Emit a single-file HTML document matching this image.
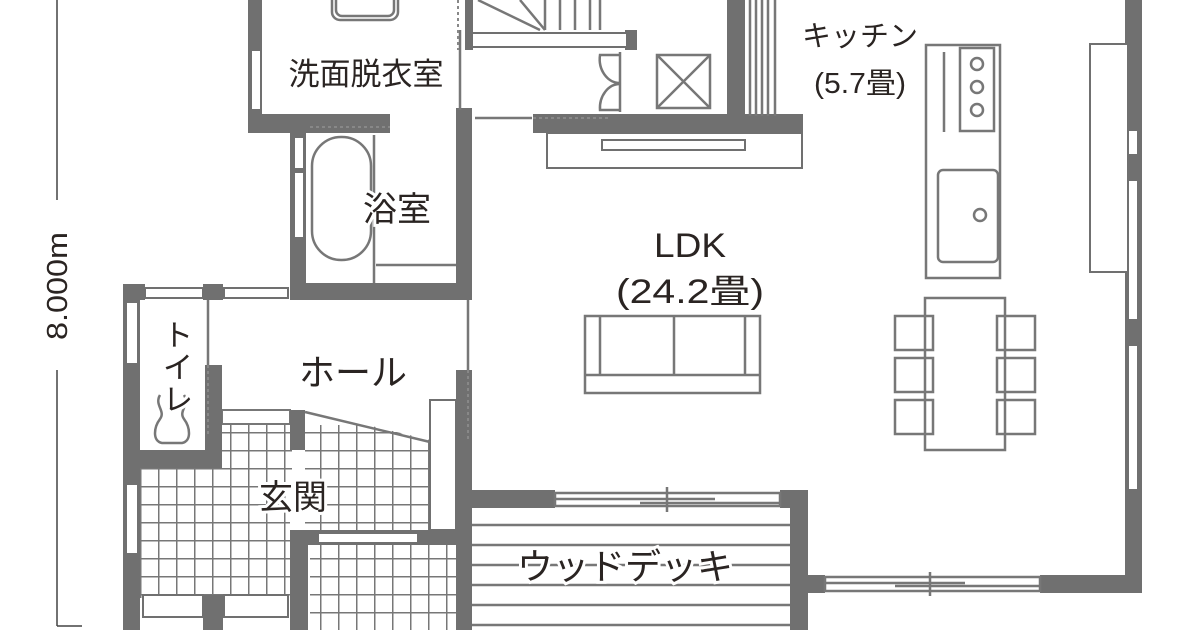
<!DOCTYPE html>
<html><head><meta charset="utf-8"><style>
html,body{margin:0;padding:0;background:#fff;width:1200px;height:630px;overflow:hidden}
svg{display:block}
text{font-family:"Liberation Sans","Noto Sans CJK JP",sans-serif;fill:#2a2422}
</style></head><body>
<svg width="1200" height="630" viewBox="0 0 1200 630" xmlns="http://www.w3.org/2000/svg">
<defs>
<pattern id="tile" width="18" height="18" patternUnits="userSpaceOnUse" x="140" y="468">
<rect width="18" height="18" fill="#fff"/>
<path d="M0 0H18M0 0V18" stroke="#777" stroke-width="3"/>
</pattern>
</defs>
<g fill="none" stroke="#444" stroke-width="1.5">
<line x1="57" y1="0" x2="57" y2="200"/>
<line x1="57" y1="370" x2="57" y2="626"/>
<line x1="57" y1="626" x2="82" y2="626"/>
</g>
<text transform="translate(67,286) rotate(-90)" font-size="29" text-anchor="middle" textLength="108" lengthAdjust="spacingAndGlyphs">8.000m</text>

<rect x="140" y="468" width="150" height="130" fill="url(#tile)"/>
<rect x="222" y="410" width="70" height="60" fill="url(#tile)"/>
<rect x="305" y="425" width="125" height="105" fill="url(#tile)"/>
<rect x="310" y="545" width="146" height="85" fill="url(#tile)"/>
<polygon points="305,410 430,440 430,425 305,395" fill="#fff"/>
<rect x="222" y="410" width="68" height="14" fill="#fff" stroke="#777" stroke-width="2"/>

<g fill="#707070">
<rect x="248" y="0" width="14" height="133"/>
<rect x="248" y="114" width="142" height="19"/>
<rect x="456" y="108" width="16" height="192"/>
<rect x="290" y="133" width="16" height="167"/>
<rect x="290" y="283" width="182" height="17"/>
<rect x="123" y="284" width="22" height="16"/>
<rect x="203" y="284" width="20" height="16"/>
<rect x="123" y="284" width="17" height="346"/>
<rect x="205" y="365" width="17" height="103"/>
<rect x="123" y="450" width="99" height="18"/>
<rect x="290" y="410" width="15" height="40"/>
<rect x="456" y="370" width="16" height="260"/>
<rect x="290" y="530" width="166" height="15"/>
<rect x="290" y="530" width="18" height="100"/>
<rect x="203" y="595" width="20" height="35"/>
<rect x="472" y="490" width="83" height="18"/>
<rect x="780" y="490" width="28" height="18"/>
<rect x="790" y="490" width="18" height="140"/>
<rect x="1125" y="0" width="17" height="592"/>
<rect x="800" y="575" width="25" height="18"/>
<rect x="1040" y="575" width="102" height="18"/>
<rect x="465" y="0" width="8" height="50"/>
<rect x="625" y="30" width="12" height="20"/>
<rect x="727" y="0" width="18" height="120"/>
<rect x="533" y="114" width="270" height="19"/>
</g>
<g fill="#fff" stroke="#707070" stroke-width="2">
<rect x="251" y="50" width="10" height="60"/>
<rect x="294" y="137" width="10" height="32"/>
<rect x="294" y="172" width="10" height="66"/>
<rect x="145" y="288" width="58" height="10"/>
<rect x="224" y="288" width="64" height="10"/>
<rect x="126" y="302" width="12" height="62"/>
<rect x="126" y="484" width="12" height="70"/>
<rect x="143" y="595" width="60" height="22"/>
<rect x="224" y="595" width="64" height="22"/>
<rect x="318" y="533" width="100" height="10"/>
<rect x="430" y="400" width="26" height="130"/>
<rect x="1128" y="130" width="10" height="25"/>
<rect x="1128" y="180" width="10" height="140"/>
<rect x="1128" y="345" width="10" height="145"/>
<rect x="1090" y="44" width="38" height="228"/>
<rect x="472" y="33" width="155" height="14"/>
<rect x="547" y="133" width="255" height="35"/>
<rect x="602" y="140" width="143" height="10"/>
</g>
<g fill="none" stroke="#777" stroke-width="2.5">
<path d="M478 0L540 30M520 0L545 30M545 0V30M560 0V30M575 0V30M590 0V30M600 0V30"/>
<rect x="332" y="-10" width="66" height="30" rx="8"/>
<rect x="336" y="-10" width="58" height="26" rx="6"/>
<rect x="312" y="137" width="59" height="123" rx="29"/>
<line x1="374" y1="135" x2="374" y2="283"/>
<line x1="376" y1="265" x2="456" y2="265"/>
<line x1="208" y1="300" x2="208" y2="365"/>
<line x1="468" y1="300" x2="468" y2="370"/>
<line x1="460" y1="30" x2="460" y2="110"/>
<line x1="475" y1="118" x2="532" y2="118"/>
<path d="M160 395c-6 10 6 16 0 24c-6 8-8 22 2 24h20c10-2 8-16 2-24c-6-8 6-14 0-24"/>
<path d="M305 412L430 442"/>
<path d="M620 55H600a20 24 0 0 0 20 28M620 110H600a20 24 0 0 1 20-26"/>
<line x1="620" y1="52" x2="620" y2="112"/>
<rect x="657" y="55" width="53" height="53"/>
<path d="M657 55L710 108M710 55L657 108"/>
<path d="M750 0V116M756 0V116M762 0V116M768 0V116M775 0V116"/>
<rect x="926" y="45" width="74" height="233"/>
<rect x="960" y="48" width="34" height="83"/>
<circle cx="977" cy="64" r="6"/><circle cx="977" cy="87" r="6"/><circle cx="977" cy="110" r="6"/>
<line x1="944" y1="52" x2="944" y2="132"/>
<rect x="938" y="170" width="60" height="92" rx="5"/>
<circle cx="980" cy="215" r="6"/>
<rect x="925" y="298" width="80" height="152"/>
<rect x="895" y="316" width="38" height="34"/><rect x="895" y="358" width="38" height="34"/><rect x="895" y="400" width="38" height="34"/>
<rect x="997" y="316" width="38" height="34"/><rect x="997" y="358" width="38" height="34"/><rect x="997" y="400" width="38" height="34"/>
<rect x="585" y="316" width="175" height="77"/>
<path d="M600 316V375M674 316V375M745 316V375M585 375H760"/>
<path d="M472 525H790M472 545H790M472 565H790M472 585H790M472 605H790M472 625H790"/>
<rect x="555" y="493" width="225" height="13"/>
<path d="M555 499H715M640 503H780M667 487V512"/>
<rect x="825" y="577" width="215" height="14"/>
<path d="M825 583H965M895 586H1040M930 572V596"/>
</g>
<g stroke="#888" stroke-width="2" stroke-dasharray="3 3" fill="none">
<line x1="458" y1="0" x2="458" y2="50"/>
<line x1="310" y1="127" x2="390" y2="127"/>
<line x1="533" y1="118" x2="610" y2="118"/>
<line x1="208" y1="365" x2="208" y2="435"/>
<line x1="468" y1="370" x2="468" y2="440"/>
</g>
<g text-anchor="middle" stroke="#fff" stroke-width="6" paint-order="stroke" style="fill:#2a2422">
<text x="366" y="85" font-size="31">洗面脱衣室</text>
<text x="397" y="221" font-size="34">浴室</text>
<text x="860" y="46" font-size="29">キッチン</text>
<text x="860" y="93" font-size="29" textLength="92" lengthAdjust="spacingAndGlyphs">(5.7畳)</text>
<text x="690" y="257" font-size="34" textLength="72" lengthAdjust="spacingAndGlyphs">LDK</text>
<text x="690" y="303" font-size="34" textLength="148" lengthAdjust="spacingAndGlyphs">(24.2畳)</text>
<text x="353" y="385" font-size="36">ホール</text>
<text x="293" y="509" font-size="34">玄関</text>
<text x="625" y="579" font-size="36">ウッドデッキ</text>
<text x="178" y="346" font-size="30">ト</text>
<text x="178" y="378" font-size="30">イ</text>
<text x="178" y="410" font-size="30">レ</text>
</g>
</svg>
</body></html>
